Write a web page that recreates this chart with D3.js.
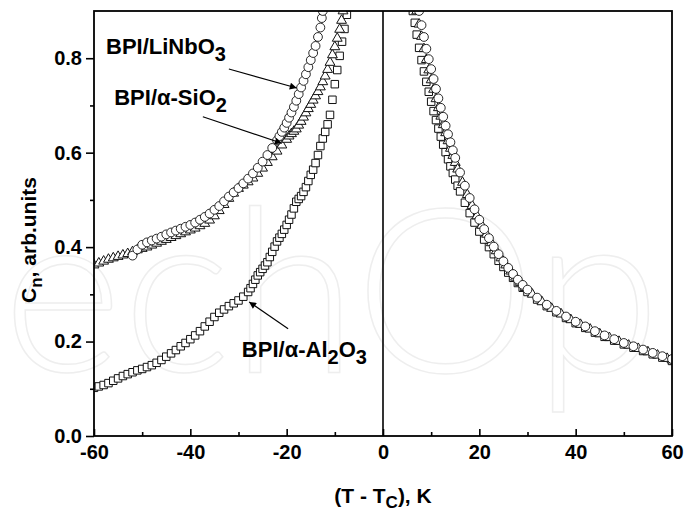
<!DOCTYPE html>
<html>
<head>
<meta charset="utf-8">
<script src="https://cdn.jsdelivr.net/npm/d3@7"></script>
<style>
  body { margin: 0; background: #fff; }
  svg { display: block; font-family: "Liberation Sans", Arial, sans-serif; }
</style>
</head>
<body>
<div id="chart-area"></div>
<script>
// SVG size
var width = 684,
	height = 513;
var margin = {top: 11, right: 12, bottom: 77, left: 94};

// axis ticks
var xMajor = [-60, -40, -20, 0, 20, 40, 60];
var xMinor = [-50, -30, -10, 10, 30, 50];
var yMajor = [0.0, 0.2, 0.4, 0.6, 0.8];
var yMinor = [0.1, 0.3, 0.5, 0.7];

// [T - Tc, Cn]
var lnbLeft = [[-52,0.382],[-51,0.395],[-50,0.405],[-49,0.41],[-48,0.414],[-47,0.418],[-46,0.422],[-45,0.427],[-44,0.431],[-43,0.435],[-42,0.439],[-41,0.443],[-40,0.447],[-39,0.452],[-38,0.458],[-37,0.464],[-36,0.471],[-35,0.479],[-34,0.487],[-33,0.497],[-32,0.507],[-31,0.516],[-30,0.525],[-29,0.535],[-28,0.545],[-27,0.556],[-26,0.568],[-25,0.581],[-24,0.595],[-23,0.61],[-22,0.626],[-21.5,0.635],[-21,0.644],[-20.5,0.653],[-20,0.663],[-19.5,0.674],[-19,0.685],[-18.5,0.697],[-18,0.71],[-17.5,0.724],[-17,0.738],[-16.5,0.752],[-16,0.766],[-15.5,0.781],[-15,0.796],[-14.5,0.811],[-14,0.826],[-13.5,0.845],[-13,0.865],[-12.7,0.885],[-12.5,0.9]];
var lnbRight = [[7.5,0.9],[8,0.87],[8.5,0.845],[9,0.82],[9.5,0.798],[10,0.777],[10.5,0.756],[11,0.735],[11.5,0.715],[12,0.695],[12.5,0.676],[13,0.657],[13.5,0.639],[14,0.622],[14.5,0.605],[15,0.589],[16,0.558],[17,0.53],[18,0.504],[19,0.48],[20,0.458],[21,0.438],[22,0.419],[23,0.401],[24,0.385],[25,0.37],[26,0.356],[27,0.343],[28,0.331],[29,0.32],[30,0.31],[32,0.293],[34,0.278],[36,0.265],[38,0.253],[40,0.242],[42,0.232],[44,0.222],[46,0.213],[48,0.205],[50,0.197],[52,0.19],[54,0.183],[56,0.176],[58,0.169],[60,0.163]];

var siLeft = [[-60,0.362],[-59,0.366],[-58,0.37],[-57,0.374],[-56,0.377],[-55,0.38],[-54,0.383],[-53,0.386],[-52,0.39],[-51,0.394],[-50,0.397],[-49,0.4],[-48,0.404],[-47,0.408],[-46,0.412],[-45,0.416],[-44,0.42],[-43,0.424],[-42,0.428],[-41,0.432],[-40,0.436],[-39,0.44],[-38,0.445],[-37,0.45],[-36,0.457],[-35,0.466],[-34,0.477],[-33,0.49],[-32,0.503],[-31,0.514],[-30,0.524],[-29,0.531],[-28,0.538],[-27,0.546],[-26,0.556],[-25,0.567],[-24,0.579],[-23,0.591],[-22,0.603],[-21,0.616],[-20,0.628],[-19.5,0.635],[-19,0.64],[-18.5,0.645],[-18,0.65],[-17.5,0.658],[-17,0.666],[-16.5,0.675],[-16,0.684],[-15.5,0.693],[-15,0.702],[-14.5,0.711],[-14,0.72],[-13.5,0.729],[-13,0.739],[-12.5,0.75],[-12,0.762],[-11.5,0.776],[-11,0.791],[-10.5,0.807],[-10,0.824],[-9.5,0.842],[-9,0.861],[-8.6,0.88],[-8.3,0.9]];
var siRight = [[7,0.9],[7.5,0.872],[8,0.846],[8.5,0.82],[9,0.797],[9.5,0.775],[10,0.754],[10.5,0.734],[11,0.714],[11.5,0.695],[12,0.677],[12.5,0.659],[13,0.642],[13.5,0.625],[14,0.609],[14.5,0.594],[15,0.579],[15.5,0.565],[16.5,0.537],[17.5,0.511],[18.5,0.488],[19.5,0.466],[20.5,0.446],[21.5,0.427],[22.5,0.409],[23.5,0.392],[24.5,0.377],[25.5,0.362],[26.5,0.349],[27.5,0.336],[28.5,0.325],[29.5,0.314],[31,0.3],[33,0.284],[35,0.27],[37,0.258],[39,0.246],[41,0.236],[43,0.226],[45,0.216],[47,0.208],[49,0.2],[51,0.192],[53,0.185],[55,0.178],[57,0.171],[59,0.164],[60,0.161]];

var alLeft = [[-60,0.102],[-59,0.105],[-58,0.108],[-57,0.112],[-56,0.117],[-55,0.122],[-54,0.127],[-53,0.131],[-52,0.135],[-51,0.139],[-50,0.142],[-49,0.146],[-48,0.15],[-47,0.155],[-46,0.161],[-45,0.168],[-44,0.175],[-43,0.182],[-42,0.19],[-41,0.197],[-40,0.205],[-39,0.213],[-38,0.222],[-37,0.232],[-36,0.242],[-35,0.252],[-34,0.261],[-33,0.268],[-32,0.275],[-31,0.281],[-30,0.287],[-29,0.295],[-28,0.305],[-27.5,0.313],[-27,0.322],[-26.5,0.331],[-26,0.34],[-25.5,0.347],[-25,0.354],[-24.5,0.361],[-24,0.368],[-23.5,0.379],[-23,0.39],[-22.5,0.401],[-22,0.412],[-21.5,0.42],[-21,0.428],[-20.5,0.437],[-20,0.447],[-19.5,0.458],[-19,0.469],[-18.5,0.482],[-18,0.496],[-17.5,0.502],[-17,0.508],[-16.5,0.517],[-16,0.527],[-15.5,0.54],[-15,0.553],[-14.5,0.564],[-14,0.578],[-13.5,0.595],[-13,0.614],[-12.5,0.63],[-12,0.644],[-11.5,0.66],[-11,0.68],[-10.5,0.712],[-10,0.745],[-9.5,0.775],[-9,0.805],[-8.5,0.835],[-8,0.862],[-7.5,0.892],[-7.2,0.91]];
var alRight = [[6.2,0.9],[6.6,0.875],[7,0.85],[7.5,0.822],[8,0.796],[8.5,0.772],[9,0.75],[9.5,0.729],[10,0.708],[10.5,0.688],[11,0.669],[11.5,0.651],[12,0.634],[12.5,0.617],[13,0.601],[13.5,0.586],[14,0.571],[14.5,0.557],[15,0.543],[15.5,0.53],[16,0.518],[17,0.494],[18,0.472],[19,0.452],[20,0.433],[21,0.416],[22,0.4],[23,0.385],[24,0.371],[25,0.358],[26,0.346],[27,0.335],[28,0.324],[29,0.314],[30,0.305],[32,0.289],[34,0.275],[36,0.262],[38,0.25],[40,0.239],[42,0.229],[44,0.219],[46,0.21],[48,0.202],[50,0.194],[52,0.187],[54,0.18],[56,0.173],[58,0.166],[60,0.159]];

// labels: name, subscript, position of text, arrow start, arrow tip (data units)
var notes = [
	{parts: [["BPI/LiNbO", 0], ["3", 1]], at: [-57.5, 0.809], from: [-32, 0.777], to: [-17.9, 0.737]},
	{parts: [["BPI/\u03b1-SiO", 0], ["2", 1]], at: [-55.8, 0.701], from: [-37.4, 0.676], to: [-21, 0.620]},
	{parts: [["BPI/\u03b1-Al", 0], ["2", 1], ["O", 0], ["3", 1]], at: [-29.3, 0.167], from: [-19.7, 0.227], to: [-27.8, 0.284]}
];

var x = d3.scaleLinear().domain([-60, 60]).range([margin.left, width - margin.right]);
var y = d3.scaleLinear().domain([0, 0.9]).range([height - margin.bottom, margin.top]);

var svg = d3.select("#chart-area").append("svg")
	.attr("width", width)
	.attr("height", height);

// faint watermark in the background
svg.append("text")
	.attr("x", -76).attr("y", 372)
	.attr("font-family", "Lato, sans-serif")
	.attr("font-weight", 300)
	.attr("font-size", 230)
	.attr("fill", "none")
	.attr("stroke", "#eeeeee")
	.attr("stroke-width", 1.5)
	.text("techOp");

svg.append("clipPath").attr("id", "clip")
	.append("rect")
	.attr("x", margin.left).attr("y", margin.top)
	.attr("width", width - margin.left - margin.right)
	.attr("height", height - margin.top - margin.bottom);

var plot = svg.append("g").attr("clip-path", "url(#clip)");

// Tc line
plot.append("line")
	.attr("x1", x(0)).attr("x2", x(0))
	.attr("y1", y(0)).attr("y2", y(0.9))
	.attr("stroke", "#000").attr("stroke-width", 1.6);

var square = d3.symbol().type(d3.symbolSquare).size(56);
var triangle = d3.symbol().type(d3.symbolTriangle).size(42);

plot.append("g").selectAll("path")
	.data(alLeft.concat(alRight))
	.enter().append("path")
	.attr("d", square)
	.attr("transform", function(d) { return "translate(" + x(d[0]) + "," + y(d[1]) + ")"; })
	.attr("fill", "#fff").attr("stroke", "#111").attr("stroke-width", 1);

plot.append("g").selectAll("path")
	.data(siLeft.concat(siRight))
	.enter().append("path")
	.attr("d", triangle)
	.attr("transform", function(d) { return "translate(" + x(d[0]) + "," + y(d[1]) + ")"; })
	.attr("fill", "#fff").attr("stroke", "#111").attr("stroke-width", 1);

plot.append("g").selectAll("circle")
	.data(lnbLeft.concat(lnbRight))
	.enter().append("circle")
	.attr("cx", function(d) { return x(d[0]); })
	.attr("cy", function(d) { return y(d[1]); })
	.attr("r", 4.4)
	.attr("fill", "#fff").attr("stroke", "#111").attr("stroke-width", 0.9);

// frame
svg.append("rect")
	.attr("x", margin.left).attr("y", margin.top)
	.attr("width", width - margin.left - margin.right)
	.attr("height", height - margin.top - margin.bottom)
	.attr("fill", "none").attr("stroke", "#000").attr("stroke-width", 1.8);

// x axis, ticks point inwards
var gx = svg.append("g").attr("transform", "translate(0," + y(0) + ")");
gx.call(d3.axisBottom(x).tickValues(xMajor).tickSize(-7).tickPadding(9).tickFormat(function(d) { return String(d); }));
gx.append("g").call(d3.axisBottom(x).tickValues(xMinor).tickSize(-4).tickFormat(""));

// y axis, ticks point outwards
var gy = svg.append("g").attr("transform", "translate(" + x(-60) + ",0)");
gy.call(d3.axisLeft(y).tickValues(yMajor).tickSize(8).tickPadding(4).tickFormat(d3.format(".1f")));
gy.append("g").call(d3.axisLeft(y).tickValues(yMinor).tickSize(4).tickFormat(""));

svg.selectAll(".domain").remove();
svg.selectAll(".tick line").attr("stroke", "#000").attr("stroke-width", 1.6);
svg.selectAll(".tick text")
	.attr("fill", "#000")
	.attr("font-family", "'Liberation Sans', Arial, sans-serif")
	.attr("font-size", 20)
	.attr("font-weight", "bold");

// axis titles
var xt = svg.append("text")
	.attr("x", x(0)).attr("y", 503)
	.attr("text-anchor", "middle")
	.attr("font-size", 21).attr("font-weight", "bold");
xt.append("tspan").text("(T - T");
xt.append("tspan").attr("dy", 5).attr("font-size", 17).text("C");
xt.append("tspan").attr("dy", -5).text("), K");

var yt = svg.append("text")
	.attr("transform", "translate(36,240) rotate(-90)")
	.attr("text-anchor", "middle")
	.attr("font-size", 21).attr("font-weight", "bold");
yt.append("tspan").text("C");
yt.append("tspan").attr("dy", 6).attr("font-size", 17).text("n");
yt.append("tspan").attr("dy", -6).text(", arb.units");

// annotations
svg.append("defs").append("marker")
	.attr("id", "head")
	.attr("viewBox", "0 0 10 10")
	.attr("refX", 10).attr("refY", 5)
	.attr("markerWidth", 9).attr("markerHeight", 7)
	.attr("markerUnits", "userSpaceOnUse")
	.attr("orient", "auto")
	.append("path").attr("d", "M0,0L10,5L0,10z").attr("fill", "#000");

notes.forEach(function(n) {
	svg.append("line")
		.attr("x1", x(n.from[0])).attr("y1", y(n.from[1]))
		.attr("x2", x(n.to[0])).attr("y2", y(n.to[1]))
		.attr("stroke", "#000").attr("stroke-width", 1.1)
		.attr("marker-end", "url(#head)");
	var t = svg.append("text")
		.attr("x", x(n.at[0])).attr("y", y(n.at[1]))
		.attr("font-size", 22).attr("font-weight", "bold");
	var low = 0;
	n.parts.forEach(function(p) {
		var s = t.append("tspan").text(p[0]);
		if (p[1] && !low) { s.attr("dy", 7).attr("font-size", 20); low = 1; }
		else if (p[1]) { s.attr("font-size", 20); }
		else if (low) { s.attr("dy", -7); low = 0; }
	});
});
</script>
</body>
</html>
